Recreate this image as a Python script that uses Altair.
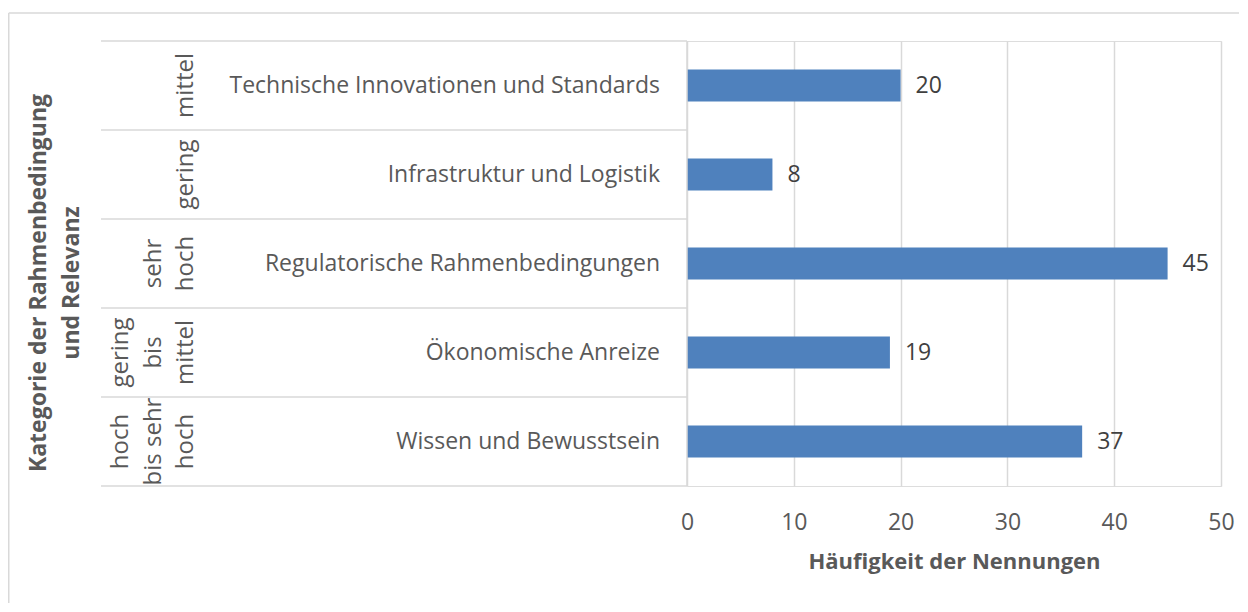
import altair as alt
import pandas as pd

# ---- data ----
categories = [
    "Technische Innovationen und Standards",
    "Infrastruktur und Logistik",
    "Regulatorische Rahmenbedingungen",
    "Ökonomische Anreize",
    "Wissen und Bewusstsein",
]
counts = [20, 8, 45, 19, 37]
relevance = [
    ["mittel"],
    ["gering"],
    ["sehr", "hoch"],
    ["gering", "bis", "mittel"],
    ["hoch", "bis sehr", "hoch"],
]
x_ticks = [0, 10, 20, 30, 40, 50]
x_title = "Häufigkeit der Nennungen"
y_title = ["Kategorie der Rahmenbedingung", "und Relevanz"]

df = pd.DataFrame({
    "cat": categories,
    "n": counts,
    "rel": ["|".join(r) for r in relevance],
})

W, H = 534, 445
OX = 687.0          # page x of the plot origin (left frame line lands on page x 8)
FONT = "Open Sans"
GREY = "#595959"
DARK = "#404040"
LINE = "#d9d9d9"
BAR = "#4f81bd"


def px(page_x):
    return page_x - OX


yscale = alt.Scale(paddingInner=0, paddingOuter=0)
yenc = alt.Y("cat:N", sort=categories, scale=yscale, axis=None)

base = alt.Chart(df)

bars = base.mark_bar(size=32, color=BAR).encode(
    x=alt.X("n:Q", scale=alt.Scale(domain=[0, 50]),
            axis=alt.Axis(values=x_ticks, grid=True, gridColor=LINE, gridWidth=1.5,
                          domain=False, ticks=False, labelFlush=False,
                          labelFontSize=23, labelColor=GREY, labelPadding=25,
                          labelFont=FONT,
                          title=x_title, titleFontSize=22, titleColor=GREY,
                          titleFont=FONT, titleFontWeight="bold", titlePadding=17)),
    y=yenc,
)

values = base.mark_text(align="left", baseline="middle", dx=15, fontSize=23,
                        color=DARK, font=FONT).encode(
    x="n:Q", y=yenc, text="n:Q")

cat_labels = base.mark_text(align="right", baseline="middle", fontSize=23,
                            color=GREY, font=FONT).encode(
    x=alt.value(px(660)), y=yenc, text="cat:N")

rel_base = base.transform_calculate(
    lines="split(datum.rel, '|')"
).transform_calculate(
    l0="datum.lines[length(datum.lines) - 1]",
    l1="length(datum.lines) > 1 ? datum.lines[length(datum.lines) - 2] : ''",
    l2="length(datum.lines) > 2 ? datum.lines[length(datum.lines) - 3] : ''",
)
rel_layers = []
for k, fld in enumerate(["l0", "l1", "l2"]):
    rel_layers.append(
        rel_base.mark_text(align="center", baseline="bottom", angle=270, fontSize=24,
                           color=GREY, font=FONT).encode(
            x=alt.value(px(198) - 32.5 * k), y=yenc, text=f"{fld}:N")
    )

row_lines = base.mark_rule(color=LINE, strokeWidth=1.5).encode(
    y=alt.Y("cat:N", sort=categories, bandPosition=0, scale=yscale, axis=None),
    x=alt.value(px(101)), x2=alt.value(0))

one = pd.DataFrame({"k": [0]})
bottom_line = alt.Chart(one).mark_rule(color=LINE, strokeWidth=1.5).encode(
    y=alt.value(H), x=alt.value(px(101)), x2=alt.value(0))
axis_line = alt.Chart(one).mark_rule(color=LINE, strokeWidth=1.5).encode(
    x=alt.value(0), y=alt.value(0), y2=alt.value(H))

ytitle = alt.Chart(one).mark_text(align="center", baseline="middle", angle=270,
                                  fontSize=23, fontWeight="bold", lineHeight=33,
                                  color=GREY, font=FONT).encode(
    x=alt.value(px(38.5)), y=alt.value(242), text=alt.value(y_title))

# chart-area frame: only the top and left edges are inside the window
frame_top = alt.Chart(one).mark_rule(color=LINE, strokeWidth=1.5).encode(
    y=alt.value(-28), x=alt.value(px(8.75)), x2=alt.value(px(1239)))
frame_left = alt.Chart(one).mark_rule(color=LINE, strokeWidth=1.5).encode(
    x=alt.value(px(8.75)), y=alt.value(-28), y2=alt.value(562))

chart = alt.layer(
    frame_top, frame_left, row_lines, bottom_line, bars, axis_line, values,
    cat_labels, *rel_layers, ytitle
).properties(
    width=W, height=H,
    padding={"left": 0, "top": 4, "right": 0, "bottom": 0},
).configure_view(stroke=None).configure(font=FONT)

chart.save("out.html", embed_options={"renderer": "svg", "actions": False})
